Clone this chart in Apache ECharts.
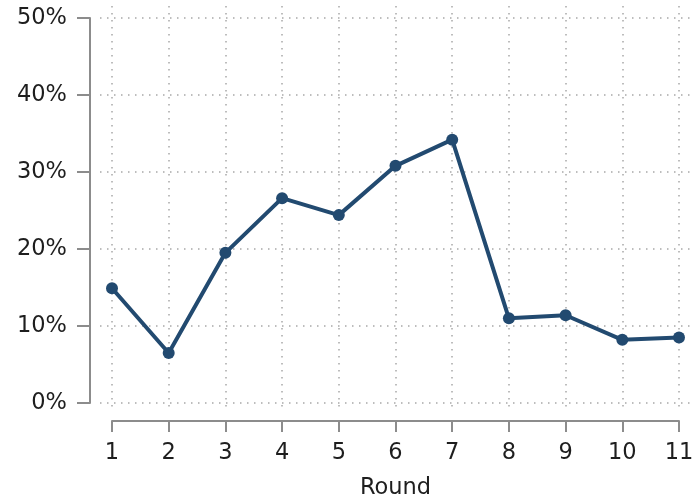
<!DOCTYPE html>
<html>
<head>
<meta charset="utf-8">
<script src="https://cdn.jsdelivr.net/npm/echarts@6/dist/echarts.min.js"></script>
<style>
  html, body { margin: 0; padding: 0; background: #fff; }
  #chart { width: 692px; height: 502px; }
</style>
</head>
<body>
<div id="chart"></div>
<script>
// Share per round, in percent
const rounds = [1, 2, 3, 4, 5, 6, 7, 8, 9, 10, 11];
const shares = [14.9, 6.5, 19.5, 26.6, 24.4, 30.8, 34.2, 11.0, 11.4, 8.2, 8.5];
const yTicks = [0, 10, 20, 30, 40, 50];

const axisGray = '#8c8c8c';
const gridGray = '#a8a8a8';
const textColor = '#1e1e1e';
const lineColor = '#224a70';
const font = 'DejaVu Sans, sans-serif';
const fontSize = 22.5;

const xMin = rounds[0];
const xMax = rounds[rounds.length - 1];
const yMin = yTicks[0];
const yMax = yTicks[yTicks.length - 1];

const dotted = { color: gridGray, type: [1.5, 5.5], width: 1.5 };
const hidden = { show: false };

const chart = echarts.init(document.getElementById('chart'));
chart.setOption({
  animation: false,
  grid: [
    // main plotting area
    { left: 112, right: 13, top: 18, bottom: 99, outerBoundsMode: 'none' },
    // horizontal guide lines run a little past the data range
    { left: 100, right: 0, top: 18, bottom: 99, outerBoundsMode: 'none' },
    // vertical guide lines run a little past the data range
    { left: 112, right: 13, top: 6, bottom: 91, outerBoundsMode: 'none' }
  ],
  xAxis: [
    {
      gridIndex: 0,
      type: 'value',
      min: xMin, max: xMax, interval: 1,
      offset: 18,
      name: 'Round',
      nameLocation: 'middle',
      nameGap: 56,
      nameTextStyle: { fontSize: fontSize, color: textColor, fontFamily: font },
      axisLine: { show: true, onZero: false, lineStyle: { color: axisGray, width: 2 } },
      axisTick: { show: true, inside: false, length: 11, lineStyle: { color: axisGray, width: 2 } },
      axisLabel: { fontSize: fontSize, color: textColor, margin: 21, fontFamily: font },
      splitLine: hidden
    },
    {
      gridIndex: 1, type: 'value', min: xMin, max: xMax, interval: 1,
      axisLine: hidden, axisTick: hidden, axisLabel: hidden, splitLine: hidden
    },
    {
      gridIndex: 2, type: 'value', min: xMin, max: xMax, interval: 1,
      axisLine: hidden, axisTick: hidden, axisLabel: hidden,
      splitLine: { show: true, lineStyle: dotted }
    }
  ],
  yAxis: [
    {
      gridIndex: 0,
      type: 'value',
      min: yMin, max: yMax, interval: 10,
      offset: 22,
      axisLine: { show: true, onZero: false, lineStyle: { color: axisGray, width: 2 } },
      axisTick: { show: true, inside: false, length: 13, lineStyle: { color: axisGray, width: 2 } },
      axisLabel: {
        fontSize: fontSize, color: textColor, margin: 23, fontFamily: font,
        formatter: v => v + '%'
      },
      splitLine: hidden
    },
    {
      gridIndex: 1, type: 'value', min: yMin, max: yMax, interval: 10,
      axisLine: hidden, axisTick: hidden, axisLabel: hidden,
      splitLine: { show: true, lineStyle: dotted }
    },
    {
      gridIndex: 2, type: 'value', min: yMin, max: yMax, interval: 10,
      axisLine: hidden, axisTick: hidden, axisLabel: hidden, splitLine: hidden
    }
  ],
  series: [{
    type: 'line',
    xAxisIndex: 0,
    yAxisIndex: 0,
    data: rounds.map((r, i) => [r, shares[i]]),
    symbol: 'circle',
    symbolSize: 12,
    lineStyle: { color: lineColor, width: 4 },
    itemStyle: { color: lineColor },
    z: 5
  }]
});
</script>
</body>
</html>
